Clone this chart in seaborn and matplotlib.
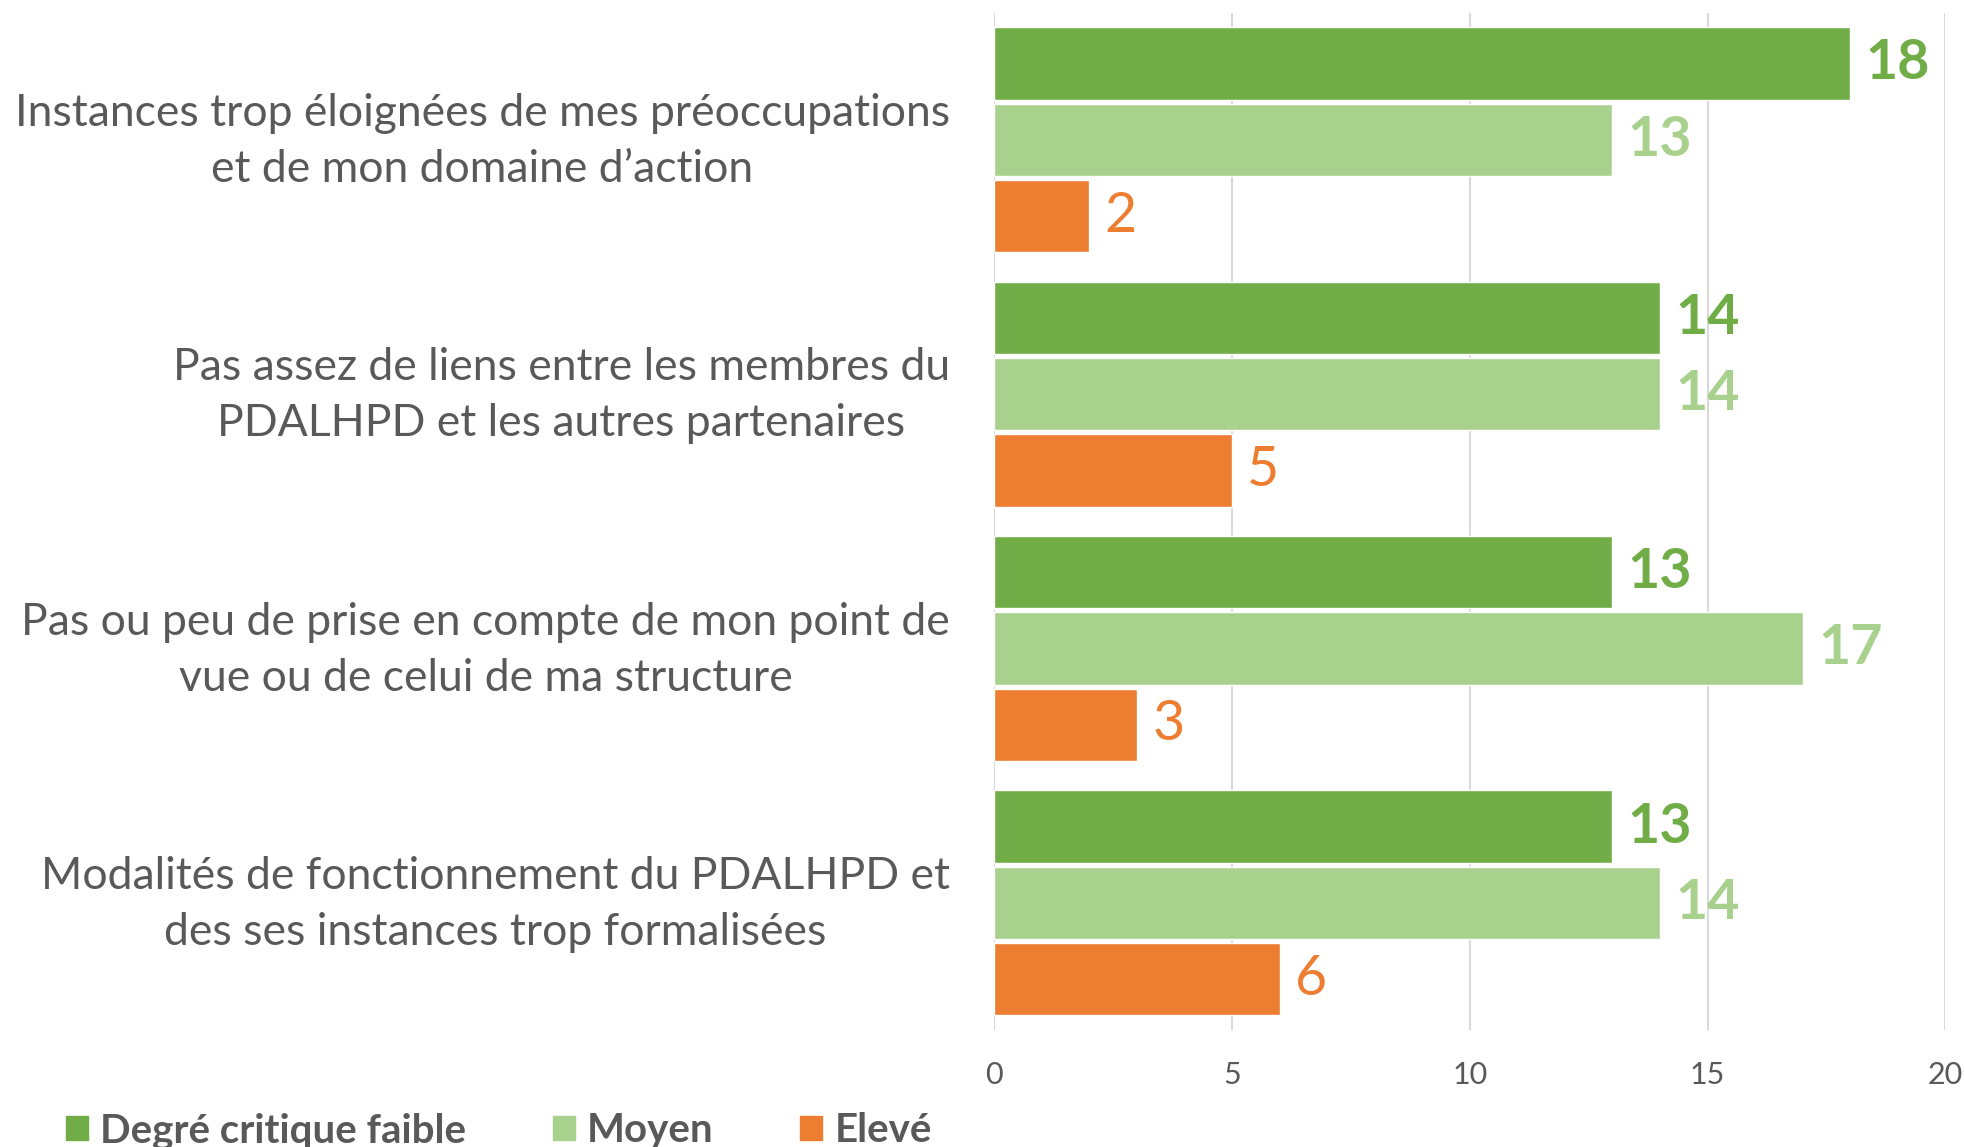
import seaborn as sns
import pandas as pd
from matplotlib import pyplot as plt
from matplotlib import transforms

# categories and values
categories = [
    "Instances trop éloignées de mes préoccupations\net de mon domaine d’action",
    "Pas assez de liens entre les membres du\nPDALHPD et les autres partenaires",
    "Pas ou peu de prise en compte de mon point de\nvue ou de celui de ma structure",
    "Modalités de fonctionnement du PDALHPD et\ndes ses instances trop formalisées",
]
series = ["Degré critique faible", "Moyen", "Elevé"]
faible = [18, 14, 13, 13]
moyen = [13, 14, 17, 14]
eleve = [2, 5, 3, 6]

colors = ["#70AD47", "#A9D18E", "#ED7D31"]
text_gray = "#595959"

rows = []
for name, vals in zip(series, [faible, moyen, eleve]):
    for cat, v in zip(categories, vals):
        rows.append({"categorie": cat, "degre": name, "valeur": v})
df = pd.DataFrame(rows)

sns.set_theme(style="white")
plt.rcParams['font.family'] = ['Lato', 'DejaVu Sans']

fig = plt.figure(figsize=(19.65, 11.47), dpi=100)
ax = fig.add_axes([0.506, 0.102, 0.484, 0.887])

sns.barplot(data=df, y="categorie", x="valeur", hue="degre", orient="h",
            palette=colors, width=0.9, gap=0.05, ax=ax, legend=False,
            saturation=1, errorbar=None)

# data labels
for cont, col in zip(ax.containers, colors):
    weight = "normal" if col == "#ED7D31" else "bold"
    ax.bar_label(cont, padding=11, color=col, fontsize=40, fontweight=weight)

ax.set_xlim(0, 20)
ax.set_xticks([0, 5, 10, 15, 20])
ax.xaxis.grid(True, color="#D9D9D9", linewidth=1.5)
ax.set_axisbelow(True)
for s in ax.spines.values():
    s.set_visible(False)
ax.set_xlabel("")
ax.set_ylabel("")
ax.tick_params(axis="x", length=0, pad=22, labelsize=22, labelcolor=text_gray)
ax.tick_params(axis="y", length=0, pad=32, labelsize=32, labelcolor=text_gray)
# nudge the category labels up a little, like the original
shift = transforms.ScaledTranslation(0, 7 / 72, fig.dpi_scale_trans)
for lbl in ax.get_yticklabels():
    lbl.set_multialignment("center")
    lbl.set_linespacing(1.45)
    lbl.set_transform(lbl.get_transform() + shift)

# legend at the bottom left
handles = [plt.Rectangle((0, 0), 1, 1, color=c) for c in colors]
leg = fig.legend(handles, series, loc="center left", bbox_to_anchor=(0.015, 0.014),
                 ncol=3, frameon=False, handlelength=0.55, handleheight=0.55,
                 handletextpad=0.3, columnspacing=2.15,
                 prop={"size": 29, "weight": "bold"})
for t in leg.get_texts():
    t.set_color(text_gray)

fig.savefig("out.png", dpi=100)
